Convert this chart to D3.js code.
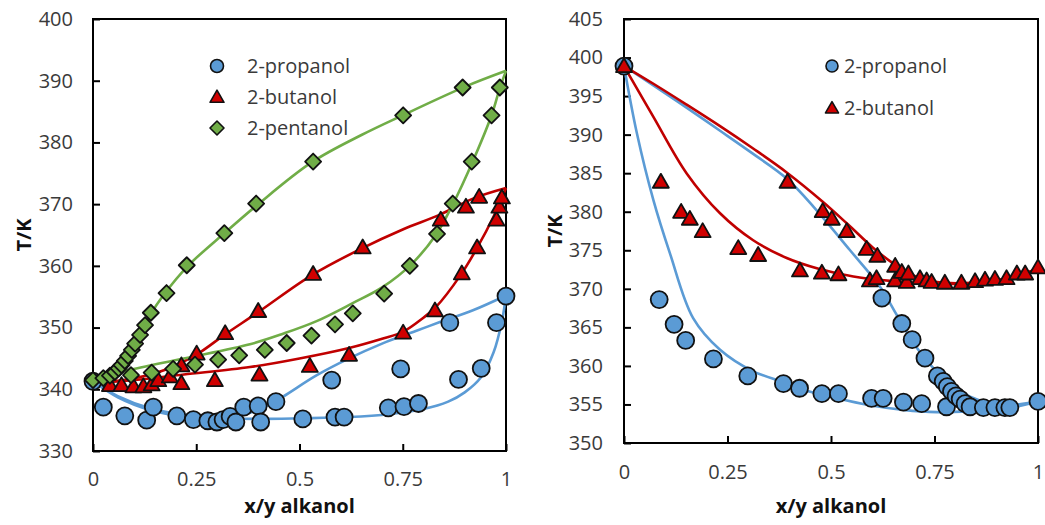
<!DOCTYPE html>
<html>
<head>
<meta charset="utf-8">
<script src="https://cdn.jsdelivr.net/npm/d3@7"></script>
<style>
  html, body { margin: 0; padding: 0; background: #fff; }
  svg { display: block; font-family: "Open Sans", "Noto Sans", sans-serif; }
</style>
</head>
<body>
<svg id="chart" width="1045" height="525"></svg>
<script>
// ---- axis ticks ----
const xTicks = [0, 0.25, 0.5, 0.75, 1];
const xTickLabels = ["0", "0.25", "0.5", "0.75", "1"];
const leftYTicks = [330, 340, 350, 360, 370, 380, 390, 400];
const rightYTicks = [350, 355, 360, 365, 370, 375, 380, 385, 390, 395, 400, 405];

// ---- left panel: measured points [x/y alkanol, T/K] ----
const leftPropanol = [
  [0, 341.3], [0.025, 337.1], [0.077, 335.7], [0.13, 335.0], [0.146, 337.1],
  [0.203, 335.7], [0.243, 335.1], [0.278, 334.9], [0.30, 334.7], [0.315, 335.1],
  [0.332, 335.6], [0.346, 334.7], [0.365, 337.1], [0.40, 337.3], [0.406, 334.7],
  [0.443, 338.0], [0.508, 335.2], [0.578, 341.5], [0.586, 335.5], [0.608, 335.5],
  [0.715, 337.0], [0.745, 343.3], [0.753, 337.2], [0.788, 337.7], [0.864, 350.8],
  [0.885, 341.6], [0.94, 343.4], [0.977, 350.8], [1.0, 355.1]
];
const leftButanol = [
  [0.041, 340.7], [0.069, 340.7], [0.098, 340.5], [0.122, 340.5], [0.142, 340.8],
  [0.158, 341.5], [0.186, 342.1], [0.214, 341.0], [0.214, 343.9], [0.251, 345.8],
  [0.295, 341.5], [0.320, 349.1], [0.403, 342.4], [0.40, 352.7], [0.525, 343.8],
  [0.533, 358.7], [0.62, 345.6], [0.653, 363.0], [0.751, 349.2], [0.828, 352.8],
  [0.842, 367.5], [0.893, 358.8], [0.903, 369.6], [0.93, 363.0], [0.935, 371.2],
  [0.977, 367.5], [0.984, 369.6], [0.99, 371.1]
];
const leftPentanol = [
  [0, 341.5], [0.025, 341.8], [0.041, 342.2], [0.053, 342.8], [0.062, 343.4],
  [0.069, 343.9], [0.077, 344.6], [0.085, 345.4], [0.094, 346.4], [0.102, 347.4],
  [0.114, 348.8], [0.126, 350.4], [0.14, 352.4], [0.178, 355.6], [0.227, 360.1],
  [0.318, 365.3], [0.395, 370.1], [0.533, 376.9], [0.751, 384.4], [0.895, 388.9],
  [0.092, 342.3], [0.142, 342.7], [0.194, 343.3], [0.247, 344.0], [0.303, 344.8],
  [0.354, 345.5], [0.416, 346.4], [0.469, 347.5], [0.529, 348.7], [0.586, 350.5],
  [0.629, 352.3], [0.705, 355.5], [0.767, 360.0], [0.833, 365.2], [0.871, 370.1],
  [0.917, 376.9], [0.965, 384.4], [0.985, 388.9]
];

// ---- left panel: model curves ----
const leftPropanolDew = [
  [0, 341.3], [0.06, 338.9], [0.14, 336.9], [0.22, 335.9], [0.30, 335.5], [0.36, 335.8],
  [0.42, 337.3], [0.46, 338.8], [0.54, 342.2], [0.62, 345.0], [0.70, 347.4],
  [0.78, 349.4], [0.84, 350.9], [0.92, 352.8], [1, 355.2]
];
const leftPropanolBubble = [
  [0, 341.3], [0.06, 338.7], [0.14, 336.6], [0.22, 335.6], [0.30, 335.3], [0.40, 335.2],
  [0.50, 335.3], [0.62, 335.5], [0.72, 336.0], [0.80, 336.8], [0.86, 338.0],
  [0.90, 339.5], [0.94, 342.0], [0.97, 346.0], [0.99, 351.0], [1, 355.2]
];
const leftButanolDew = [
  [0, 341.0], [0.10, 341.8], [0.18, 343.3], [0.25, 345.6], [0.32, 348.9], [0.40, 352.5],
  [0.53, 358.5], [0.65, 362.8], [0.75, 365.9], [0.84, 368.3], [0.92, 370.9], [1, 372.6]
];
const leftButanolBubble = [
  [0, 341.0], [0.10, 341.5], [0.22, 342.4], [0.38, 343.6], [0.50, 345.0], [0.62, 346.7],
  [0.70, 348.2], [0.75, 349.3], [0.80, 351.6], [0.83, 353.3], [0.89, 358.5],
  [0.93, 362.9], [0.97, 368.0], [1, 372.6]
];
const leftPentanolDew = [
  [0, 341.5], [0.04, 342.2], [0.06, 343.0], [0.08, 344.8], [0.10, 347.2], [0.12, 349.6],
  [0.14, 352.2], [0.17, 355.2], [0.23, 360.0], [0.32, 365.4], [0.40, 370.0],
  [0.53, 376.8], [0.65, 381.2], [0.75, 384.4], [0.90, 389.0], [1, 391.6]
];
const leftPentanolBubble = [
  [0, 341.5], [0.08, 343.0], [0.22, 345.0], [0.38, 347.3], [0.46, 349.0], [0.54, 351.0],
  [0.63, 354.0], [0.70, 356.5], [0.77, 360.2], [0.83, 365.0], [0.87, 369.8],
  [0.92, 377.0], [0.965, 384.4], [0.985, 388.8], [1, 391.6]
];

// ---- right panel: measured points ----
const rightPropanol = [
  [0, 398.9], [0.085, 368.6], [0.121, 365.4], [0.149, 363.3], [0.216, 360.9],
  [0.299, 358.7], [0.385, 357.7], [0.424, 357.1], [0.478, 356.4], [0.518, 356.4],
  [0.598, 355.8], [0.626, 355.8], [0.675, 355.3], [0.719, 355.1], [0.779, 354.7],
  [0.623, 368.8], [0.671, 365.5], [0.696, 363.4], [0.727, 361.0], [0.757, 358.7],
  [0.771, 358.0], [0.781, 357.3], [0.791, 356.7], [0.802, 356.1], [0.812, 355.7],
  [0.824, 355.1], [0.836, 354.7], [0.868, 354.6], [0.896, 354.6], [0.92, 354.6],
  [0.932, 354.6], [1.0, 355.4]
];
const rightButanol = [
  [0, 398.9], [0.089, 383.9], [0.138, 380.0], [0.159, 379.1], [0.19, 377.5],
  [0.276, 375.3], [0.324, 374.4], [0.395, 383.9], [0.425, 372.4], [0.478, 372.1],
  [0.48, 380.1], [0.502, 379.1], [0.518, 371.9], [0.538, 377.5], [0.586, 375.2],
  [0.594, 371.1], [0.61, 371.4], [0.612, 374.3], [0.655, 373.0], [0.655, 371.1],
  [0.671, 372.2], [0.683, 370.9], [0.687, 372.0], [0.715, 371.4], [0.731, 371.1],
  [0.743, 370.9], [0.775, 370.8], [0.815, 370.8], [0.848, 371.0], [0.872, 371.2],
  [0.896, 371.3], [0.924, 371.4], [0.949, 372.0], [0.969, 372.0], [1.0, 372.8]
];

// ---- right panel: model curves ----
const rightPropanolDew = [
  [0, 398.9], [0.071, 396.4], [0.151, 393.5], [0.232, 390.5], [0.312, 387.5],
  [0.393, 384.3], [0.46, 380.5], [0.546, 375.0], [0.618, 370.3], [0.659, 366.6],
  [0.699, 363.0], [0.739, 360.2], [0.787, 357.7], [0.836, 356.0], [0.916, 354.9], [1, 355.4]
];
const rightPropanolBubble = [
  [0, 398.9], [0.031, 390.2], [0.071, 381.5], [0.111, 374.6], [0.167, 366.2],
  [0.232, 362.1], [0.312, 359.3], [0.385, 357.9], [0.433, 356.9], [0.514, 355.8],
  [0.594, 354.9], [0.675, 354.3], [0.755, 354.0], [0.836, 354.1], [0.916, 354.4], [1, 355.4]
];
const rightButanolDew = [
  [0, 398.9], [0.071, 396.6], [0.151, 393.9], [0.232, 391.1], [0.312, 388.2],
  [0.393, 385.1], [0.48, 381.3], [0.54, 378.4], [0.60, 375.4], [0.65, 373.3],
  [0.70, 371.7], [0.75, 370.9], [0.85, 370.8], [0.93, 371.4], [1, 372.6]
];
const rightButanolBubble = [
  [0, 398.9], [0.071, 392.3], [0.151, 385.0], [0.232, 379.8], [0.312, 376.3],
  [0.393, 374.0], [0.47, 372.6], [0.554, 371.6], [0.65, 371.0], [0.75, 370.7],
  [0.85, 370.7], [0.93, 371.4], [1, 372.6]
];

const BLUE = "#5B9BD5", RED = "#D00000", RED_LINE = "#C00000", GREEN = "#70AD47";
const TEXT = "#3a3a3a";

const svg = d3.select("#chart");

// marker shapes; s is the half-width of the marker in px
const symbols = {
  circle: (s) => d3.symbol().type(d3.symbolCircle).size(Math.PI * s * s)(),
  triangle: (s) => `M0,${-s * 0.98}L${s},${s * 0.76}L${-s},${s * 0.76}Z`,
  diamond: (s) => `M0,${-s}L${s},0L0,${s}L${-s},0Z`
};

function drawPanel(cfg) {
  const x = d3.scaleLinear().domain([0, 1]).range([cfg.x0, cfg.x1]);
  const y = d3.scaleLinear().domain(cfg.yDomain).range([cfg.y0, cfg.y1]);
  const g = svg.append("g");

  // axes with inward ticks
  const ya = g.append("g").attr("transform", `translate(${cfg.x0},0)`)
    .call(d3.axisLeft(y).tickValues(cfg.yTicks).tickSize(-7).tickSizeOuter(0).tickPadding(cfg.yPad));
  const xa = g.append("g").attr("transform", `translate(0,${cfg.y0})`)
    .call(d3.axisBottom(x).tickValues(xTicks).tickFormat((d, i) => xTickLabels[i])
      .tickSize(-7).tickSizeOuter(0).tickPadding(cfg.xPad));
  [ya, xa].forEach(a => {
    a.select(".domain").remove();
    a.selectAll(".tick line").attr("stroke", "#000").attr("stroke-width", 2);
    a.selectAll(".tick text").attr("font-size", 20).attr("fill", TEXT)
      .attr("font-family", "'Open Sans', sans-serif");
  });

  // plot frame
  g.append("rect").attr("x", cfg.x0).attr("y", cfg.y1)
    .attr("width", cfg.x1 - cfg.x0).attr("height", cfg.y0 - cfg.y1)
    .attr("fill", "none").attr("stroke", "#000").attr("stroke-width", 2);

  // axis titles
  g.append("text").attr("x", (cfg.x0 + cfg.x1) / 2).attr("y", 513)
    .attr("text-anchor", "middle").attr("font-size", 20).attr("font-weight", "bold")
    .attr("fill", "#111").text("x/y alkanol");
  g.append("text")
    .attr("transform", `translate(${cfg.yTitleX},${(cfg.y0 + cfg.y1) / 2}) rotate(-90)`)
    .attr("text-anchor", "middle").attr("font-size", 20).attr("font-weight", "bold")
    .attr("fill", "#111").text("T/K");

  // model curves
  const line = d3.line().x(d => x(d[0])).y(d => y(d[1])).curve(d3.curveCatmullRom.alpha(0.5));
  cfg.curves.forEach(c => {
    g.append("path").datum(c.data).attr("d", line)
      .attr("fill", "none").attr("stroke", c.color).attr("stroke-width", 2.6)
      .attr("stroke-linejoin", "round");
  });

  // measured points
  cfg.series.forEach(s => {
    g.append("g").selectAll("path").data(s.data).join("path")
      .attr("transform", d => `translate(${x(d[0])},${y(d[1])})`)
      .attr("d", symbols[s.shape](s.r))
      .attr("fill", s.color).attr("stroke", "#111").attr("stroke-width", 1.8)
      .attr("stroke-linejoin", "round");
  });

  // legend
  cfg.legend.items.forEach((it, i) => {
    const ly = cfg.legend.y + i * cfg.legend.dy;
    g.append("path").attr("transform", `translate(${cfg.legend.x},${ly})`)
      .attr("d", symbols[it.shape](it.r))
      .attr("fill", it.color).attr("stroke", "#111").attr("stroke-width", 1.6)
      .attr("stroke-linejoin", "round");
    g.append("text").attr("x", cfg.legend.tx).attr("y", ly).attr("dy", "0.35em")
      .attr("font-size", 20).attr("fill", TEXT).text(it.label);
  });
}

drawPanel({
  x0: 93, x1: 506, y0: 451, y1: 19, yDomain: [330, 400], yTicks: leftYTicks,
  yPad: 20, xPad: 21, yTitleX: 31,
  curves: [
    { data: leftPropanolDew, color: BLUE }, { data: leftPropanolBubble, color: BLUE },
    { data: leftButanolDew, color: RED_LINE }, { data: leftButanolBubble, color: RED_LINE },
    { data: leftPentanolDew, color: GREEN }, { data: leftPentanolBubble, color: GREEN }
  ],
  series: [
    { data: leftPropanol, shape: "circle", r: 8.5, color: BLUE },
    { data: leftButanol, shape: "triangle", r: 8, color: RED },
    { data: leftPentanol, shape: "diamond", r: 8, color: GREEN }
  ],
  legend: {
    x: 217, tx: 247, y: 66, dy: 31,
    items: [
      { shape: "circle", r: 6.5, color: BLUE, label: "2-propanol" },
      { shape: "triangle", r: 7, color: RED, label: "2-butanol" },
      { shape: "diamond", r: 7, color: GREEN, label: "2-pentanol" }
    ]
  }
});

drawPanel({
  x0: 624, x1: 1038, y0: 443, y1: 19, yDomain: [350, 405], yTicks: rightYTicks,
  yPad: 21, xPad: 22, yTitleX: 562,
  curves: [
    { data: rightPropanolDew, color: BLUE }, { data: rightPropanolBubble, color: BLUE },
    { data: rightButanolDew, color: RED_LINE }, { data: rightButanolBubble, color: RED_LINE }
  ],
  series: [
    { data: rightPropanol, shape: "circle", r: 8.5, color: BLUE },
    { data: rightButanol, shape: "triangle", r: 8, color: RED }
  ],
  legend: {
    x: 832, tx: 844, y: 66, dy: 42,
    items: [
      { shape: "circle", r: 6, color: BLUE, label: "2-propanol" },
      { shape: "triangle", r: 6.5, color: RED, label: "2-butanol" }
    ]
  }
});
</script>
</body>
</html>
